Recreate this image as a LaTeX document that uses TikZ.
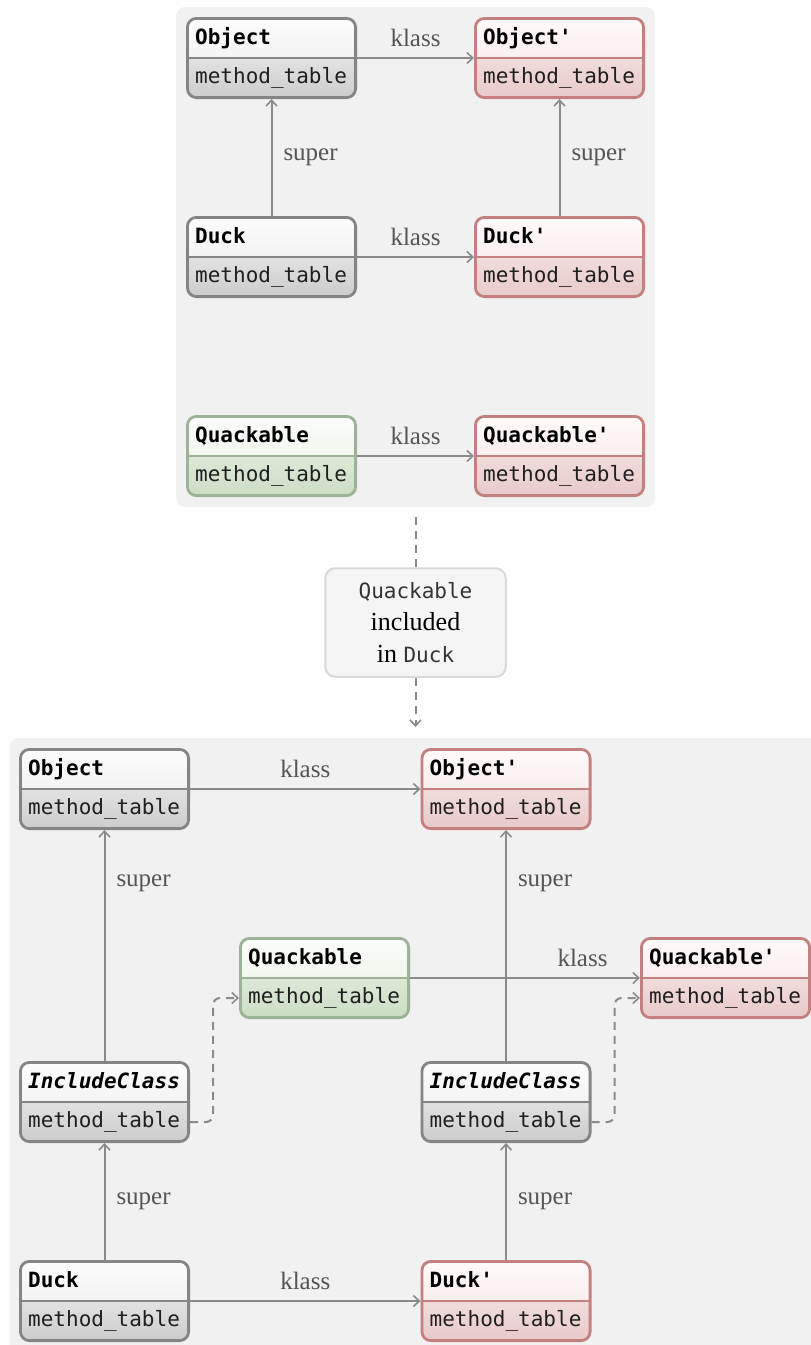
\documentclass[tikz,border=0pt]{standalone}
\usepackage{fontspec}
\setmainfont{Liberation Serif}
\setmonofont{DejaVu Sans Mono}
\usetikzlibrary{arrows.meta}

\definecolor{panelbg}{HTML}{F1F1F1}
\definecolor{linkgray}{HTML}{8A8A8A}
\definecolor{labelgray}{HTML}{555555}
\definecolor{notefill}{HTML}{F5F5F5}
\definecolor{notedraw}{HTML}{D9D9D9}
% gray (ordinary class)
\definecolor{gbord}{HTML}{858585}
\definecolor{ghA}{HTML}{FCFCFC}\definecolor{ghB}{HTML}{EAEAEA}
\definecolor{grA}{HTML}{E2E2E2}\definecolor{grB}{HTML}{CCCCCC}
% red (metaclass)
\definecolor{rbord}{HTML}{C47F7F}
\definecolor{rhA}{HTML}{FFFAFA}\definecolor{rhB}{HTML}{F4E3E3}
\definecolor{rrA}{HTML}{F1DCDC}\definecolor{rrB}{HTML}{E8CACA}
% green (module)
\definecolor{mbord}{HTML}{9DB397}
\definecolor{mhA}{HTML}{FBFDFA}\definecolor{mhB}{HTML}{E6EFE2}
\definecolor{mrA}{HTML}{DDE9D7}\definecolor{mrB}{HTML}{CCDDC5}

\newcommand\monosize{\fontsize{21}{24}\selectfont}

\tikzset{
  classbox/.style n args={5}{
    draw=#5, line width=2.8pt, rounded corners=9pt,
    minimum width=168.2pt, minimum height=79.2pt, inner sep=0pt,
    path picture={
      \shade[sharp corners, top color=#1, bottom color=#2]
        (path picture bounding box.north west) rectangle (path picture bounding box.east);
      \shade[sharp corners, top color=#3, bottom color=#4]
        (path picture bounding box.west) rectangle (path picture bounding box.south east);
      \draw[sharp corners, draw=#5, line width=2.8pt]
        (path picture bounding box.west) -- (path picture bounding box.east);
    }},
  plainclass/.style={classbox={ghA}{ghB}{grA}{grB}{gbord}},
  metaclass/.style={classbox={rhA}{rhB}{rrA}{rrB}{rbord}},
  moduleclass/.style={classbox={mhA}{mhB}{mrA}{mrB}{mbord}},
  titletext/.style={inner sep=0pt, anchor=base west, text=black,
    font=\monosize\ttfamily\bfseries},
  rowtext/.style={inner sep=0pt, anchor=base west, text=black!88,
    font=\monosize\ttfamily},
  link/.style={draw=linkgray, line width=2pt,
    -{Straight Barb[length=6pt,width=11pt,line width=1.6pt]}},
  dashlink/.style={link, dash pattern=on 8pt off 6pt},
  edgelabel/.style={text=labelgray, font=\fontsize{25}{28}\selectfont, inner sep=0pt},
  notebox/.style={draw=notedraw, fill=notefill, line width=2pt, rounded corners=10pt,
    minimum width=180.5pt, minimum height=108.5pt, align=center,
    font=\fontsize{26}{32}\selectfont},
}

% a class box with its title row and its method_table row
\newcommand\umlclass[4]{%
  \node[#1] (#2) at #3 {};
  \node[titletext] (#2-t) at ([xshift=9pt,yshift=13.5pt]#2.west) {#4};
  \node[rowtext] (#2-mt) at ([xshift=9pt,yshift=-25.5pt]#2.west) {method\_table};
}
\newcommand\notecode[1]{{\monosize\ttfamily\color{black!80}#1}}

\begin{document}
\begin{tikzpicture}[x=1pt,y=-1pt]
\useasboundingbox (0,0) rectangle (811,1345);

% ---------- before the include ----------
\fill[panelbg, rounded corners=9pt] (176,7) rectangle (655,507);

\umlclass{plainclass}{obj}{(271.5,58)}{Object}
\umlclass{metaclass}{objm}{(559.5,58)}{Object'}
\umlclass{plainclass}{duck}{(271.5,257)}{Duck}
\umlclass{metaclass}{duckm}{(559.5,257)}{Duck'}
\umlclass{moduleclass}{quack}{(271.5,456)}{Quackable}
\umlclass{metaclass}{quackm}{(559.5,456)}{Quackable'}

\draw[link] (obj.east) -- node[edgelabel, above=10pt] {klass} (objm.west);
\draw[link] (duck.east) -- node[edgelabel, above=10pt] {klass} (duckm.west);
\draw[link] (quack.east) -- node[edgelabel, above=10pt] {klass} (quackm.west);
\draw[link] (duck.north) -- node[edgelabel, right=11pt] {super} (obj.south);
\draw[link] (duckm.north) -- node[edgelabel, right=11pt] {super} (objm.south);

% ---------- the step in between ----------
\node[notebox] (note) at (415.5,622.5)
  {\notecode{Quackable}\\included\\in \notecode{Duck}};
\coordinate (stepin) at (415.5,517);
\coordinate (stepout) at (415.5,727);
\draw[dashlink, -] (stepin) -- (note.north);
\draw[dashlink] (note.south) -- (stepout);

% ---------- after the include ----------
\begin{scope}
  \clip (0,0) rectangle (811,1345);
  \fill[panelbg, rounded corners=9pt] (10,738) rectangle (830,1365);
\end{scope}

\umlclass{plainclass}{objb}{(104.5,789)}{Object}
\umlclass{metaclass}{objbm}{(506,789)}{Object'}
\umlclass{moduleclass}{quackb}{(324.5,978)}{Quackable}
\umlclass{metaclass}{quackbm}{(725.5,978)}{Quackable'}
\umlclass{plainclass}{incl}{(104.5,1102)}{\itshape IncludeClass}
\umlclass{plainclass}{inclm}{(506,1102)}{\itshape IncludeClass}
\umlclass{plainclass}{duckb}{(104.5,1301)}{Duck}
\umlclass{metaclass}{duckbm}{(506,1301)}{Duck'}

\draw[link] (objb.east) -- node[edgelabel, above=10pt] {klass} (objbm.west);
\draw[link] (duckb.east) -- node[edgelabel, above=10pt] {klass} (duckbm.west);
\draw[link] (incl.north) -- node[edgelabel, right=11pt, pos=0.77] {super} (objb.south);
\draw[link] (duckb.north) -- node[edgelabel, right=11pt] {super} (incl.south);
\draw[link] (inclm.north) -- node[edgelabel, right=11pt, pos=0.77] {super} (objbm.south);
\draw[link] (duckbm.north) -- node[edgelabel, right=11pt] {super} (inclm.south);
\draw[link] (quackb.east) -- node[edgelabel, above=10pt, pos=0.75] {klass} (quackbm.west);

\draw[dashlink, rounded corners=7pt] ([yshift=-20pt]incl.east) -- ++(23,0)
  |- ([yshift=-20pt]quackb.west);
\draw[dashlink, rounded corners=7pt] ([yshift=-20pt]inclm.east) -- ++(23,0)
  |- ([yshift=-20pt]quackbm.west);
\end{tikzpicture}
\end{document}
